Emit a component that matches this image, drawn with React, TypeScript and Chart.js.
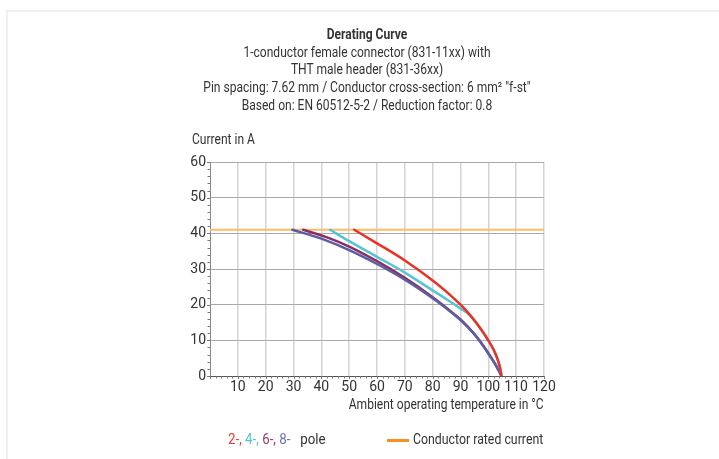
import React, { useEffect, useRef } from "react";
import { Chart, registerables } from "chart.js";

Chart.register(...registerables);

// ---- data ----
const titleLines = ["Derating Curve"];
const subtitleLines = [
  "1-conductor female connector (831-11xx) with",
  "THT male header (831-36xx)",
  "Pin spacing: 7.62 mm / Conductor cross-section: 6 mm\u00B2 \"f-st\"",
  "Based on: EN 60512-5-2 / Reduction factor: 0.8",
];
const yAxisTitle = "Current in A";
const xAxisTitle = "Ambient operating temperature in \u00B0C";

const xTicks = [0, 10, 20, 30, 40, 50, 60, 70, 80, 90, 100, 110, 120];
const yTicks = [0, 10, 20, 30, 40, 50, 60];
const minorStep = 2;

// 2-pole
const temp2 = [51.8, 60, 70, 80, 85, 90, 93, 96, 98, 100, 101.5, 102.5, 103.5, 104.2, 104.6, 104.7];
const curr2 = [41, 37.2, 32.4, 26.8, 23.6, 20.0, 17.5, 14.6, 12.4, 10.0, 8.0, 6.4, 4.3, 2.3, 0.7, 0];
// 4-pole
const temp4 = [43.1, 50, 60, 70, 80, 85, 90, 93, 96, 98, 100, 101.5, 102.5, 103.5, 104.2, 104.6, 104.7];
const curr4 = [41, 37.8, 33.4, 29.0, 24.0, 21.5, 18.9, 17.3, 14.5, 12.3, 9.9, 7.9, 6.3, 4.2, 2.2, 0.6, 0];
// 6-pole
const temp6 = [33.5, 43, 50, 60, 70, 80, 85, 90, 93, 96, 98, 100, 101.5, 102.5, 103.5, 104.2, 104.7];
const curr6 = [41, 38.6, 36.3, 32.2, 27.5, 22.1, 19.1, 15.85, 13.5, 10.8, 8.7, 6.4, 4.6, 3.3, 1.9, 0.85, 0];
// 8-pole
const temp8 = [29.6, 40, 50, 60, 70, 80, 85, 90, 93, 96, 98, 100, 101.5, 102.5, 103.5, 104.2, 104.7];
const curr8 = [41, 38.5, 35.3, 31.4, 27.0, 21.8, 18.9, 15.7, 13.4, 10.7, 8.6, 6.3, 4.5, 3.2, 1.8, 0.8, 0];

const ratedTemp = [0, 120];
const ratedCurrent = [41, 41];

const legendPoles = [
  { text: "2-", color: "#ec3b31" },
  { text: "4-", color: "#55c3d2" },
  { text: "6-", color: "#9a3a6c" },
  { text: "8-", color: "#6e6fae" },
];
const legendPoleSuffix = "pole";
const legendRated = "Conductor rated current";

const FONT = "'Roboto', 'Noto Sans', sans-serif";
const SQUEEZE = 0.86;

const pts = (xs: number[], ys: number[]) => xs.map((x, i) => ({ x, y: ys[i] }));

const minorTicksPlugin = {
  id: "minorTicks",
  afterDraw(chart: any) {
    const { ctx, scales, chartArea } = chart;
    const x = scales.x;
    const y = scales.y;
    ctx.save();
    ctx.strokeStyle = "#777";
    ctx.lineWidth = 1;
    for (let v = xTicks[0]; v <= xTicks[xTicks.length - 1]; v += minorStep) {
      const px = Math.round(x.getPixelForValue(v)) + 0.5;
      const len = v % 10 === 0 ? 3 : 2.5;
      ctx.beginPath();
      ctx.moveTo(px, chartArea.bottom);
      ctx.lineTo(px, chartArea.bottom + len);
      ctx.stroke();
    }
    for (let v = yTicks[0]; v <= yTicks[yTicks.length - 1]; v += minorStep) {
      const py = Math.round(y.getPixelForValue(v)) + 0.5;
      const len = v % 10 === 0 ? 3 : 2.5;
      ctx.beginPath();
      ctx.moveTo(chartArea.left, py);
      ctx.lineTo(chartArea.left - len, py);
      ctx.stroke();
    }
    ctx.restore();
  },
};

export default function App() {
  const canvasRef = useRef<HTMLCanvasElement | null>(null);

  useEffect(() => {
    if (!canvasRef.current) return;
    const curve = (label: string, xs: number[], ys: number[], color: string) => ({
      label,
      data: pts(xs, ys),
      borderColor: color,
      borderWidth: 2.5,
      pointRadius: 0,
      cubicInterpolationMode: "monotone",
      borderCapStyle: "round",
      borderJoinStyle: "round",
    });
    const chart = new Chart(canvasRef.current, {
      type: "line",
      data: {
        datasets: [
          curve("2-pole", temp2, curr2, "#ec3124"),
          curve("4-pole", temp4, curr4, "#55c4d3"),
          curve("8-pole", temp8, curr8, "#5c5ea3"),
          curve("6-pole", temp6, curr6, "#8a2e68"),
          {
            label: "Conductor rated current",
            data: pts(ratedTemp, ratedCurrent),
            borderColor: "#fbbd6a",
            borderWidth: 2,
            pointRadius: 0,
          },
        ],
      } as any,
      options: {
        animation: false,
        responsive: true,
        maintainAspectRatio: false,
        layout: { padding: { left: 180, right: 175, top: 162, bottom: 46 } },
        plugins: {
          legend: { display: false },
          tooltip: { enabled: false },
          title: { display: false },
        },
        scales: {
          x: {
            type: "linear",
            min: xTicks[0],
            max: xTicks[xTicks.length - 1],
            afterBuildTicks: (s: any) => {
              s.ticks = xTicks.map((v) => ({ value: v }));
            },
            afterFit: (s: any) => {
              s.height = 37;
            },
            ticks: {
              padding: 3,
              color: "#333",
              font: { family: FONT, size: 14 },
              maxRotation: 0,
              autoSkip: false,
              callback: (v: any) => (v === 0 ? "" : String(v)),
            },
            grid: {
              drawTicks: false,
              color: (c: any) => (c.tick && c.tick.value === 0 ? "rgba(0,0,0,0)" : "#d4d4d4"),
              lineWidth: 1.5,
            },
            border: { color: "#555", width: 1 },
          },
          y: {
            type: "linear",
            min: yTicks[0],
            max: yTicks[yTicks.length - 1],
            afterBuildTicks: (s: any) => {
              s.ticks = yTicks.map((v) => ({ value: v }));
            },
            afterFit: (s: any) => {
              s.width = 30;
            },
            ticks: {
              padding: 4,
              color: "#333",
              font: { family: FONT, size: 14 },
              autoSkip: false,
            },
            grid: {
              drawTicks: false,
              color: (c: any) => (c.tick && c.tick.value === 0 ? "rgba(0,0,0,0)" : "#aaaaaa"),
              lineWidth: 1,
            },
            border: { color: "#888", width: 1 },
          },
        },
      } as any,
      plugins: [minorTicksPlugin],
    });
    return () => chart.destroy();
  }, []);

  const textBase: React.CSSProperties = {
    position: "absolute",
    fontFamily: FONT,
    color: "#333",
    fontSize: 14,
    lineHeight: "17.7px",
    whiteSpace: "nowrap",
  };

  return (
    <div style={{ position: "absolute", left: 0, top: 0, width: 719, height: 459, background: "#fff", overflow: "hidden" }}>
      <div
        style={{
          position: "absolute",
          left: 6,
          top: 10,
          width: 713,
          height: 449,
          borderLeft: "2px solid #eff0f2",
          borderTop: "2px solid #eff0f2",
          boxSizing: "border-box",
        }}
      />
      <div style={{ position: "absolute", left: 0, top: 0, width: 719, height: 459 }}>
        <canvas ref={canvasRef} />
      </div>
      <div
        style={{
          ...textBase,
          left: 0,
          width: 734,
          top: 26,
          textAlign: "center",
          transform: `scaleX(${SQUEEZE})`,
          transformOrigin: "367px 0",
        }}
      >
        {titleLines.map((t) => (
          <div key={t} style={{ fontWeight: "bold" }}>{t}</div>
        ))}
        {subtitleLines.map((t) => (
          <div key={t}>{t}</div>
        ))}
      </div>
      <div style={{ ...textBase, left: 192, top: 131, transform: `scaleX(${SQUEEZE})`, transformOrigin: "0 0" }}>
        {yAxisTitle}
      </div>
      <div
        style={{
          ...textBase,
          right: 719 - 544,
          top: 396,
          textAlign: "right",
          transform: `scaleX(${SQUEEZE})`,
          transformOrigin: "100% 0",
        }}
      >
        {xAxisTitle}
      </div>
      <div style={{ ...textBase, left: 228, top: 431, transform: "scaleX(0.95)", transformOrigin: "0 0" }}>
        {legendPoles.map((p, i) => (
          <span key={p.text} style={{ color: p.color }}>
            {p.text}
            {i < legendPoles.length - 1 ? ", " : ""}
          </span>
        ))}
        <span>{"\u00A0\u00A0\u00A0" + legendPoleSuffix}</span>
      </div>
      <div style={{ position: "absolute", left: 387, top: 439, width: 22, height: 2.5, background: "#f7901e" }} />
      <div style={{ ...textBase, left: 413, top: 431, transform: "scaleX(0.88)", transformOrigin: "0 0" }}>
        {legendRated}
      </div>
    </div>
  );
}
